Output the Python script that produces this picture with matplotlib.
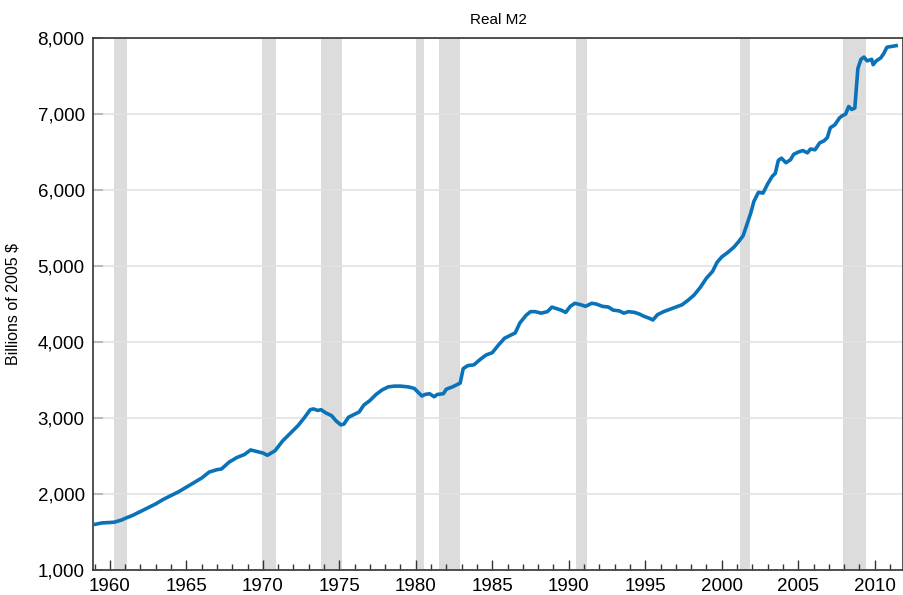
import numpy as np
import matplotlib
matplotlib.use('Agg')
import matplotlib.pyplot as plt
from matplotlib.ticker import MultipleLocator, FuncFormatter
plt.rcParams['font.family'] = ['Liberation Sans', 'DejaVu Sans']

# Real M2, billions of 2005 $
years = [1959.0, 1959.5, 1960.0, 1960.3, 1960.8, 1961.0, 1961.5, 1962.0, 1962.5, 1963.0,
         1963.5, 1964.0, 1964.5, 1965.0, 1965.5, 1966.0, 1966.5, 1967.0, 1967.3, 1967.8,
         1968.3, 1968.8, 1969.2, 1969.6, 1970.0, 1970.3, 1970.8, 1971.3, 1971.8, 1972.3,
         1972.7, 1973.1, 1973.3, 1973.6, 1973.8, 1974.1, 1974.5, 1974.8, 1975.1, 1975.3,
         1975.6, 1976.0, 1976.3, 1976.6, 1977.0, 1977.4, 1977.8, 1978.2, 1978.6, 1979.0,
         1979.5, 1979.9, 1980.2, 1980.4, 1980.6, 1980.9, 1981.2, 1981.4, 1981.8, 1982.0,
         1982.4, 1982.7, 1982.9, 1983.1, 1983.4, 1983.8, 1984.2, 1984.6, 1985.0, 1985.4,
         1985.8, 1986.2, 1986.5, 1986.8, 1987.2, 1987.5, 1987.8, 1988.2, 1988.6, 1988.9,
         1989.2, 1989.5, 1989.8, 1990.1, 1990.4, 1990.8, 1991.1, 1991.5, 1991.8, 1992.2,
         1992.6, 1992.9, 1993.3, 1993.6, 1993.9, 1994.3, 1994.6, 1994.9, 1995.3, 1995.5,
         1995.8, 1996.2, 1996.6, 1997.0, 1997.4, 1997.8, 1998.2, 1998.6, 1999.0, 1999.4,
         1999.7, 2000.0, 2000.4, 2000.8, 2001.1, 2001.4, 2001.7, 2001.9, 2002.1, 2002.4,
         2002.7, 2003.0, 2003.3, 2003.5, 2003.7, 2003.9, 2004.2, 2004.5, 2004.7, 2005.0,
         2005.3, 2005.6, 2005.8, 2006.1, 2006.4, 2006.7, 2006.9, 2007.1, 2007.4, 2007.7,
         2007.9, 2008.1, 2008.3, 2008.5, 2008.7, 2008.9, 2009.1, 2009.3, 2009.5, 2009.8,
         2009.9, 2010.1, 2010.4, 2010.6, 2010.8, 2011.1, 2011.4]
m2 = [1600, 1620, 1625, 1630, 1660, 1680, 1720, 1770, 1820, 1870,
      1930, 1980, 2030, 2090, 2150, 2210, 2290, 2320, 2330, 2420,
      2480, 2520, 2580, 2560, 2540, 2510, 2570, 2700, 2800, 2900,
      3000, 3110, 3120, 3100, 3110, 3070, 3030, 2960, 2910, 2920,
      3010, 3050, 3080, 3170, 3230, 3310, 3370, 3410, 3420, 3420,
      3410, 3390, 3330, 3290, 3310, 3320, 3280, 3310, 3320, 3380,
      3410, 3440, 3460, 3650, 3690, 3700, 3770, 3830, 3860, 3960,
      4050, 4090, 4120, 4250, 4350, 4400, 4400, 4380, 4400, 4460,
      4440, 4420, 4390, 4470, 4510, 4490, 4470, 4510, 4500, 4470,
      4460, 4420, 4410, 4380, 4400, 4390, 4370, 4340, 4310, 4290,
      4360, 4400, 4430, 4460, 4490, 4550, 4620, 4720, 4840, 4930,
      5050, 5120, 5180, 5250, 5320, 5400, 5580, 5700, 5850, 5970,
      5960, 6080, 6180, 6220, 6390, 6420, 6360, 6400, 6470, 6500,
      6520, 6490, 6540, 6530, 6620, 6650, 6690, 6820, 6860, 6950,
      6980, 7000, 7100, 7060, 7080, 7600, 7720, 7750, 7700, 7720,
      7650, 7700, 7740, 7800, 7880, 7890, 7900]

# NBER recessions
rec_start = [1960.25, 1969.92, 1973.83, 1980.0, 1981.5, 1990.5, 2001.17, 2007.92]
rec_end = [1961.12, 1970.87, 1975.2, 1980.55, 1982.87, 1991.2, 2001.87, 2009.45]

fig = plt.figure(figsize=(9.04, 5.95), dpi=100)
ax = fig.add_axes([0.1029, 0.042, 0.896, 0.894])

ax.grid(axis='y', color='#e3e3e3', linewidth=1.2, zorder=0)
for s, e in zip(rec_start, rec_end):
    ax.axvspan(s, e, color='#dcdcdc', linewidth=0, zorder=1)
ax.plot(years, m2, color='#0a72b8', linewidth=2.6, zorder=3, solid_joinstyle='round')

ax.set_xlim(1958.9, 2011.85)
ax.set_ylim(1000, 8000)
ax.xaxis.set_major_locator(MultipleLocator(5))
ax.xaxis.set_minor_locator(MultipleLocator(1))
ax.yaxis.set_major_locator(MultipleLocator(1000))
ax.yaxis.set_major_formatter(FuncFormatter(lambda v, p: '{:,.0f}'.format(v)))
ax.xaxis.set_major_formatter(FuncFormatter(lambda v, p: '%d' % v))

ax.tick_params(axis='x', which='major', direction='in', length=7, width=1, color='#333333',
               labelsize=13.5, pad=6)
ax.tick_params(axis='x', which='minor', direction='in', length=4, width=1, color='#333333')
ax.tick_params(axis='y', which='major', direction='in', length=7, width=1.5, color='#bbbbbb',
               labelsize=13.5, pad=6)
for sp in ax.spines.values():
    sp.set_color('#333333')
    sp.set_linewidth(1.2)

ax.set_ylabel('Billions of 2005 $', fontsize=11.5, labelpad=12)
ax.set_title('Real M2', fontsize=11, pad=10)

plt.savefig('out.png', dpi=100)
plt.close()
